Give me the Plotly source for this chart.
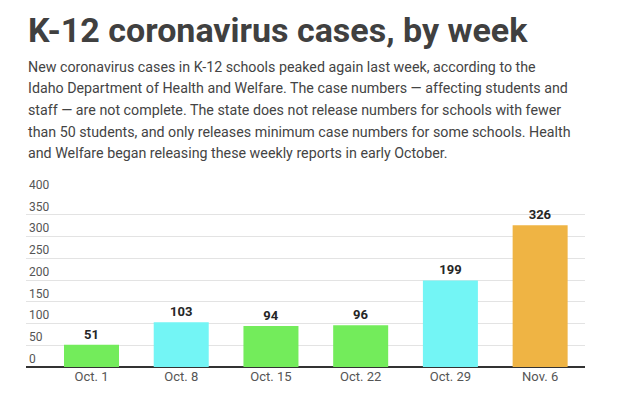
import plotly.graph_objects as go

weeks = ["Oct. 1", "Oct. 8", "Oct. 15", "Oct. 22", "Oct. 29", "Nov. 6"]
cases = [51, 103, 94, 96, 199, 326]
bar_colors = ["#73ec5b", "#73f5f5", "#73ec5b", "#73ec5b", "#73f5f5", "#efb444"]
y_ticks = [0, 50, 100, 150, 200, 250, 300, 350, 400]

title_text = "K-12 coronavirus cases, by week"
subtitle_lines = [
    "New coronavirus cases in K-12 schools peaked again last week, according to the",
    "Idaho Department of Health and Welfare. The case numbers — affecting students and",
    "staff — are not complete. The state does not release numbers for schools with fewer",
    "than 50 students, and only releases minimum case numbers for some schools. Health",
    "and Welfare began releasing these weekly reports in early October.",
]

W, H = 620, 399
PLOT_L, PLOT_R, PLOT_T, PLOT_B = 26, 585, 193, 367


def py(p):
    return (PLOT_B - p) / (PLOT_B - PLOT_T)


fig = go.Figure(
    go.Bar(
        x=list(range(len(weeks))),
        y=cases,
        marker=dict(color=bar_colors, line=dict(width=0)),
        width=0.613,
        text=[str(v) for v in cases],
        textposition="outside",
        textfont=dict(family="Roboto", size=13, color="#262626", weight=700),
        cliponaxis=False,
        hoverinfo="skip",
    )
)

annotations = [
    dict(
        text=title_text, x=0, y=py(29.5), xref="paper", yref="paper",
        xanchor="left", yanchor="middle", showarrow=False,
        font=dict(family="Roboto", size=34, color="#404040", weight=700),
    )
]
for i, line in enumerate(subtitle_lines):
    annotations.append(
        dict(
            text=line, x=0, y=py(67 + 21.5 * i), xref="paper", yref="paper",
            xanchor="left", yanchor="middle", showarrow=False,
            font=dict(family="Roboto", size=14.25, color="#444444"),
        )
    )

fig.update_layout(
    width=W, height=H,
    margin=dict(l=PLOT_L, r=W - PLOT_R, t=PLOT_T, b=H - PLOT_B, pad=0),
    paper_bgcolor="white", plot_bgcolor="white",
    showlegend=False,
    bargap=0.387,
    annotations=annotations,
    xaxis=dict(
        range=[-0.73, 5.5],
        tickmode="array",
        tickvals=list(range(len(weeks))),
        ticktext=weeks,
        showgrid=False, zeroline=False, showline=False,
        ticks="",
        tickfont=dict(family="Roboto", size=13, color="#555555"),
        fixedrange=True,
    ),
    yaxis=dict(
        range=[0, 400],
        tickmode="array",
        tickvals=y_ticks,
        ticktext=[str(v) for v in y_ticks],
        ticklabelposition="inside top",
        ticklabeloverflow="allow",
        showgrid=True, gridcolor="#e3e3e3", gridwidth=1,
        zeroline=True, zerolinecolor="#333333", zerolinewidth=2,
        showline=False, ticks="",
        tickfont=dict(family="Roboto", size=12, color="#555555"),
        fixedrange=True,
    ),
)

fig.write_html(
    "out.html",
    config=dict(displayModeBar=False),
    post_script="document.body.style.margin='0';document.body.style.overflow='hidden';",
)
